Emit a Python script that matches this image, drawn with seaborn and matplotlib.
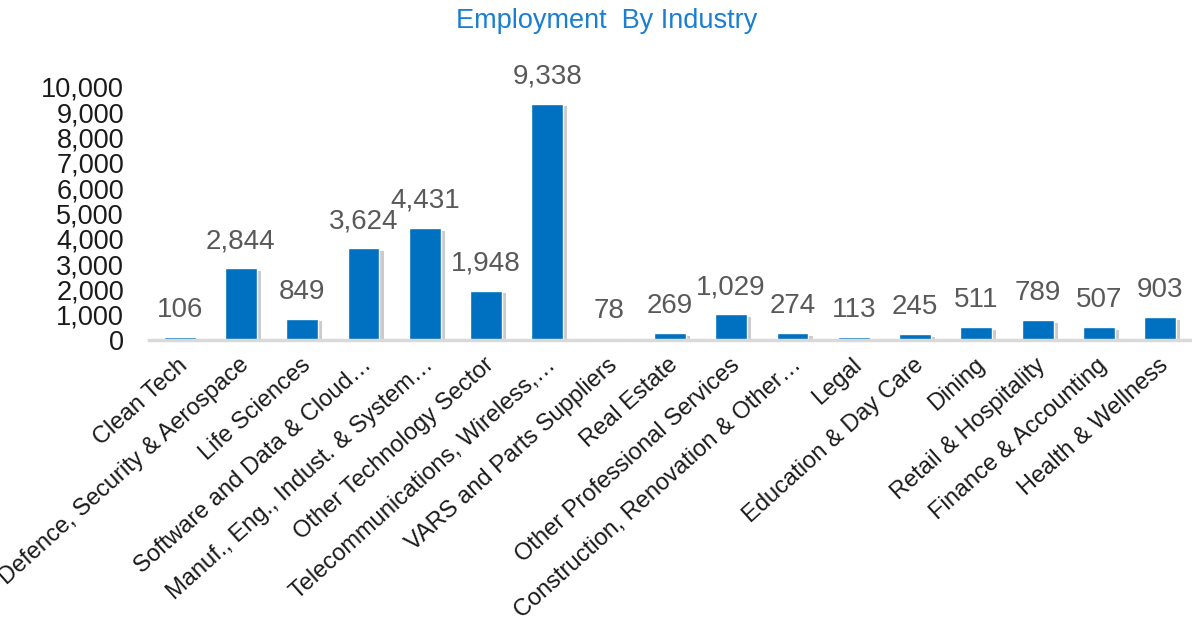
import matplotlib
matplotlib.use("Agg")
import matplotlib.pyplot as plt
import matplotlib.patheffects as pe
import matplotlib.transforms as mtransforms
from matplotlib.ticker import FuncFormatter
import seaborn as sns
import pandas as pd

categories = [
    "Clean Tech",
    "Defence, Security & Aerospace",
    "Life Sciences",
    "Software and Data & Cloud\u2026",
    "Manuf., Eng., Indust. & System\u2026",
    "Other Technology Sector",
    "Telecommunications, Wireless,\u2026",
    "VARS and Parts Suppliers",
    "Real Estate",
    "Other Professional Services",
    "Construction, Renovation & Other\u2026",
    "Legal",
    "Education & Day Care",
    "Dining",
    "Retail & Hospitality",
    "Finance & Accounting",
    "Health & Wellness",
]
employment = [106, 2844, 849, 3624, 4431, 1948, 9338, 78, 269, 1029,
              274, 113, 245, 511, 789, 507, 903]
y_ticks = list(range(0, 10001, 1000))
title = "Employment  By Industry"

df = pd.DataFrame({"Industry": categories, "Employment": employment})

sns.set_theme(style="white")
plt.rcParams["font.family"] = ["Liberation Sans", "DejaVu Sans"]

fig = plt.figure(figsize=(11.92, 6.19), dpi=100)
ax = fig.add_axes([0.125, 0.4507, 0.874, 0.4293])

sns.barplot(data=df, x="Industry", y="Employment", color="#0070C0",
            saturation=1, width=0.52, ax=ax)

for p in ax.patches:
    p.set_path_effects([
        pe.SimplePatchShadow(offset=(3, -2), shadow_rgbFace="#7f7f7f", alpha=0.4),
        pe.Normal(),
    ])

ax.bar_label(ax.containers[0], labels=[f"{v:,}" for v in employment],
             padding=10, fontsize=20, color="#595959")

ax.set_ylim(0, 10500)
ax.set_xlim(-0.5, len(categories) - 0.5)
ax.set_yticks(y_ticks)
ax.yaxis.set_major_formatter(FuncFormatter(lambda v, _: f"{int(v):,}"))
ax.tick_params(axis="y", labelsize=19.5, pad=18, length=0, labelcolor="#1a1a1a")
ax.tick_params(axis="x", length=0)

# rotated category labels drawn at the category tick positions
xpos = ax.get_xticks()
ax.set_xticks(xpos)
ax.set_xticklabels([""] * len(xpos))
base = ax.get_xaxis_transform()
offset = mtransforms.ScaledTranslation(-0.02, -0.14, fig.dpi_scale_trans)
for xp, name in zip(xpos, categories):
    ax.text(xp, 0, name, transform=base + offset, rotation=42,
            rotation_mode="anchor", ha="right", va="top", fontsize=17,
            color="#1a1a1a", clip_on=False)

ax.set_xlabel("")
ax.set_ylabel("")
for s in ["top", "right", "left"]:
    ax.spines[s].set_visible(False)
ax.spines["bottom"].set_color("#d9d9d9")
ax.spines["bottom"].set_linewidth(2.5)
ax.grid(False)

fig.text(0.509, 0.966, title, ha="center", va="center", fontsize=19.5,
         color="#1a7fd0")

fig.savefig("out.png", dpi=100)
